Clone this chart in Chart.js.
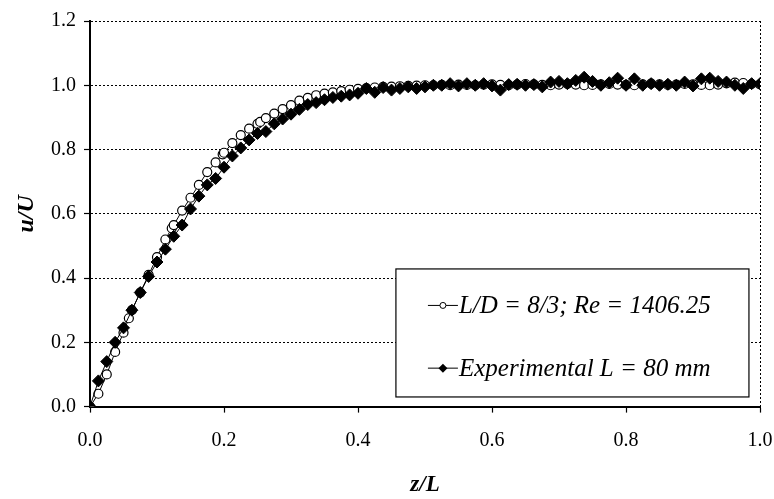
<!DOCTYPE html>
<html>
<head>
<meta charset="utf-8">
<script src="https://cdn.jsdelivr.net/npm/chart.js@4.4.1/dist/chart.umd.min.js"></script>
<style>
  html, body { margin: 0; padding: 0; background: #fff; }
  #wrap { width: 774px; height: 499px; position: relative; }
</style>
</head>
<body>
<div id="wrap"><canvas id="c" width="774" height="499"></canvas></div>
<script>
// Axial velocity profile u/U along z/L: simulation vs. experiment
const seriesLabels = ['L/D = 8/3; Re = 1406.25', 'Experimental L = 80 mm'];

const xTickLabels = ['0.0', '0.2', '0.4', '0.6', '0.8', '1.0'];
const yTickLabels = ['0.0', '0.2', '0.4', '0.6', '0.8', '1.0', '1.2'];

// Simulation (open circles)
const zSim = [
  0, 0.0125, 0.025, 0.0375, 0.05, 0.058, 0.0625, 0.075, 0.0875, 0.1,
  0.1125, 0.122, 0.125, 0.1375, 0.15, 0.1625, 0.175, 0.1875, 0.198, 0.2,
  0.2125, 0.225, 0.2375, 0.25, 0.254, 0.2625, 0.275, 0.2875, 0.3, 0.3125,
  0.325, 0.3375, 0.35, 0.3625, 0.375, 0.3875, 0.4, 0.4125, 0.425, 0.4375,
  0.45, 0.4625, 0.475, 0.4875, 0.5, 0.5125, 0.525, 0.5375, 0.55, 0.5625,
  0.575, 0.5875, 0.6, 0.6125, 0.625, 0.6375, 0.65, 0.6625, 0.675, 0.6875,
  0.7, 0.7125, 0.725, 0.7375, 0.75, 0.7625, 0.775, 0.7875, 0.8, 0.8125,
  0.825, 0.8375, 0.85, 0.8625, 0.875, 0.8875, 0.9, 0.9125, 0.925, 0.9375,
  0.95, 0.9625, 0.975, 0.9875, 1.0
];
const uSim = [
  0, 0.04, 0.10, 0.17, 0.23, 0.275, 0.30, 0.355, 0.41, 0.465,
  0.52, 0.555, 0.565, 0.61, 0.65, 0.69, 0.73, 0.76, 0.785, 0.79,
  0.82, 0.845, 0.865, 0.88, 0.886, 0.898, 0.912, 0.926, 0.938, 0.952,
  0.961, 0.969, 0.974, 0.978, 0.982, 0.986, 0.989, 0.991, 0.993, 0.995,
  0.996, 0.997, 0.998, 0.999, 1.000, 1.000, 1.001, 1.000, 1.002, 1.001,
  1.000, 1.002, 1.003, 1.001, 1.000, 1.002, 1.004, 1.003, 1.001, 1.000,
  1.002, 1.004, 1.002, 1.000, 1.001, 1.003, 1.004, 1.002, 1.001, 1.000,
  1.003, 1.005, 1.003, 1.001, 1.002, 1.004, 1.003, 1.001, 1.000, 1.002,
  1.006, 1.008, 1.007, 1.004, 1.003
];

// Experiment (filled diamonds), one reading every 1 mm over 80 mm
const zExp = [
  0, 0.0125, 0.025, 0.0375, 0.05, 0.0625, 0.075, 0.0875, 0.1, 0.1125,
  0.125, 0.1375, 0.15, 0.1625, 0.175, 0.1875, 0.2, 0.2125, 0.225, 0.2375,
  0.25, 0.2625, 0.275, 0.2875, 0.3, 0.3125, 0.325, 0.3375, 0.35, 0.3625,
  0.375, 0.3875, 0.4, 0.4125, 0.425, 0.4375, 0.45, 0.4625, 0.475, 0.4875,
  0.5, 0.5125, 0.525, 0.5375, 0.55, 0.5625, 0.575, 0.5875, 0.6, 0.6125,
  0.625, 0.6375, 0.65, 0.6625, 0.675, 0.6875, 0.7, 0.7125, 0.725, 0.7375,
  0.75, 0.7625, 0.775, 0.7875, 0.8, 0.8125, 0.825, 0.8375, 0.85, 0.8625,
  0.875, 0.8875, 0.9, 0.9125, 0.925, 0.9375, 0.95, 0.9625, 0.975, 0.9875,
  1.0
];
const uExp = [
  0, 0.08, 0.14, 0.20, 0.245, 0.30, 0.355, 0.405, 0.45, 0.49,
  0.53, 0.565, 0.615, 0.655, 0.69, 0.71, 0.745, 0.78, 0.805, 0.83,
  0.85, 0.856, 0.88, 0.895, 0.91, 0.925, 0.94, 0.946, 0.955, 0.962,
  0.966, 0.97, 0.975, 0.99, 0.978, 0.993, 0.985, 0.99, 0.995, 0.99,
  0.995, 1.0, 1.0, 1.005, 0.998, 1.005, 1.0, 1.005, 0.998, 0.985,
  1.002, 1.003, 1.0, 1.002, 0.995, 1.01, 1.012, 1.005, 1.015, 1.025,
  1.012, 1.0, 1.008, 1.022, 1.0, 1.02, 1.0, 1.005, 1.0, 1.003,
  1.0, 1.01, 0.998, 1.02, 1.022, 1.012, 1.01, 1.0, 0.99, 1.005,
  1.005
];

const serif = '"Liberation Serif", "Times New Roman", serif';
const near = (a, b) => Math.abs(a - b) < 1e-6;

// Boxed legend drawn inside the plot, lower right
const boxLegend = {
  id: 'boxLegend',
  afterDraw(chart) {
    const { ctx, chartArea: ca } = chart;
    const W = ca.right - ca.left, H = ca.bottom - ca.top;
    const x0 = ca.left + 0.4566 * W, x1 = ca.left + 0.9835 * W;
    const y0 = ca.top + 0.643 * H, y1 = ca.top + 0.975 * H;
    ctx.save();
    ctx.fillStyle = '#fff';
    ctx.fillRect(x0, y0, x1 - x0, y1 - y0);
    ctx.strokeStyle = '#000';
    ctx.lineWidth = 1.2;
    ctx.strokeRect(x0, y0, x1 - x0, y1 - y0);
    const rows = [y0 + 0.285 * (y1 - y0), y0 + 0.775 * (y1 - y0)];
    chart.data.datasets.forEach((ds, i) => {
      const y = rows[i];
      const lx0 = x0 + 32, lx1 = x0 + 62, mx = (lx0 + lx1) / 2;
      ctx.strokeStyle = '#000';
      ctx.lineWidth = 1;
      ctx.beginPath(); ctx.moveTo(lx0, y); ctx.lineTo(lx1, y); ctx.stroke();
      ctx.beginPath();
      if (ds.pointStyle === 'rectRot') {
        const r = 4.5;
        ctx.moveTo(mx, y - r); ctx.lineTo(mx + r, y); ctx.lineTo(mx, y + r); ctx.lineTo(mx - r, y);
        ctx.closePath();
        ctx.fillStyle = '#000'; ctx.fill();
      } else {
        ctx.arc(mx, y, 3, 0, Math.PI * 2);
        ctx.fillStyle = '#fff'; ctx.fill(); ctx.stroke();
      }
      ctx.fillStyle = '#000';
      ctx.font = 'italic 25px ' + serif;
      ctx.textAlign = 'left';
      ctx.textBaseline = 'middle';
      ctx.fillText(ds.label, lx1 + 1, y + 1);
    });
    ctx.restore();
  }
};

new Chart(document.getElementById('c'), {
  type: 'line',
  data: {
    datasets: [
      {
        label: seriesLabels[0],
        data: zSim.map((z, i) => ({ x: z, y: uSim[i] })),
        order: 1,
        borderColor: '#000', borderWidth: 1,
        pointStyle: 'circle', pointRadius: 4.5, pointBorderWidth: 1.2,
        pointBackgroundColor: '#fff', pointBorderColor: '#000',
        tension: 0, fill: false
      },
      {
        label: seriesLabels[1],
        data: zExp.map((z, i) => ({ x: z, y: uExp[i] })),
        order: 0,
        borderColor: '#000', borderWidth: 1,
        pointStyle: 'rectRot', pointRadius: 6, pointBorderWidth: 1,
        pointBackgroundColor: '#000', pointBorderColor: '#000',
        tension: 0, fill: false
      }
    ]
  },
  options: {
    responsive: false,
    animation: false,
    devicePixelRatio: 1,
    layout: { padding: { top: 21, right: 2, bottom: 0, left: 0 } },
    plugins: { legend: { display: false }, tooltip: { enabled: false } },
    scales: {
      x: {
        type: 'linear', min: 0, max: 1,
        afterFit(s) { s.height = 92.4; s.paddingLeft = 0; s.paddingRight = 14; },
        ticks: {
          stepSize: 0.2, color: '#000', padding: 16,
          font: { family: serif, size: 20 },
          callback: (v, i) => xTickLabels[i]
        },
        grid: {
          color: (c) => (c.tick && near(c.tick.value, 1)) ? '#000' : 'rgba(0,0,0,0)',
          lineWidth: 1, tickLength: 6, tickColor: '#000', tickWidth: 1.2, tickBorderDash: []
        },
        border: { display: true, color: '#000', width: 2, dash: [2, 2] },
        title: {
          display: true, text: 'z/L', color: '#000', padding: 0,
          font: { family: serif, size: 23, style: 'italic', weight: 'bold' }
        }
      },
      y: {
        type: 'linear', min: 0, max: 1.2,
        afterFit(s) { s.width = 90; },
        ticks: {
          stepSize: 0.2, color: '#000', padding: 8,
          font: { family: serif, size: 20 },
          callback: (v, i) => yTickLabels[i]
        },
        grid: {
          color: (c) => (c.tick && near(c.tick.value, 0)) ? 'rgba(0,0,0,0)' : '#000',
          lineWidth: 1, tickLength: 6, tickColor: '#000', tickWidth: 1.2, tickBorderDash: []
        },
        border: { display: true, color: '#000', width: 2, dash: [2, 2] },
        title: {
          display: true, text: 'u/U', color: '#000', padding: { top: 12, bottom: 0 },
          font: { family: serif, size: 24, style: 'italic', weight: 'bold' }
        }
      }
    }
  },
  plugins: [boxLegend]
});
</script>
</body>
</html>
